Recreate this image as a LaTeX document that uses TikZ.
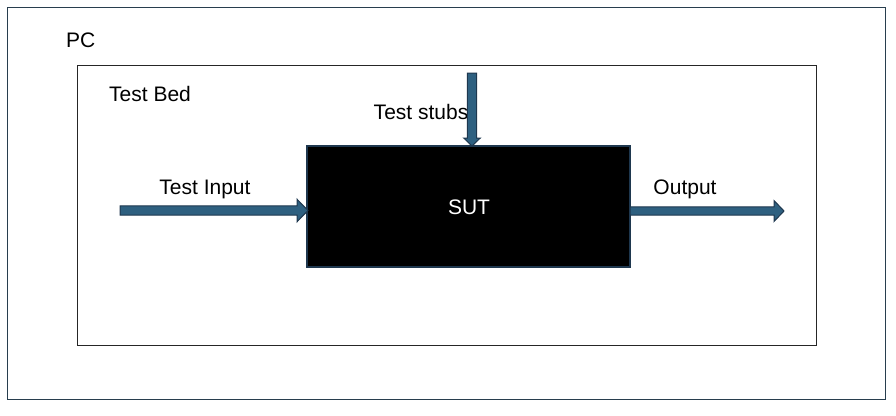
\documentclass[tikz,border=0pt]{standalone}
\usepackage{fontspec}
\setmainfont{Liberation Sans}
\usepackage{tikz}
\usetikzlibrary{calc}
\usepackage{xcolor}
\definecolor{arrowblue}{RGB}{46,96,128}
\definecolor{arrowline}{RGB}{30,55,78}
\definecolor{frameline}{RGB}{40,62,78}

\begin{document}
\begin{tikzpicture}[
  x=1pt,y=-1pt,
  frame/.style={draw=#1,line width=1.8pt,inner sep=0pt,fill=none},
  frame/.default=frameline,
  txt/.style={font=\fontsize{21}{24}\selectfont,inner sep=0pt},
  blockarrow/.style={fill=arrowblue,draw=arrowline,line width=1pt,line join=miter}
  ]
\useasboundingbox (0,0) rectangle (896,415);
\node[frame,minimum width=878,minimum height=392] (pc) at (446.5,203.5){};
\node[frame=black!85,minimum width=739,minimum height=280] (bed) at (447,205.5){};
\node[frame=arrowline,fill=black,minimum width=323,minimum height=121] (sut) at (468.5,206.5){};
\node[txt,anchor=west] (pclabel) at (66,40){PC};
\node[txt,anchor=west] (bedlabel) at (109,94){Test Bed};
\node[txt] (stublabel) at (421,112){Test stubs};
\node[txt] (inlabel) at (205,189){Test Input};
\node[txt] (outlabel) at (685,189){Output};
\node[txt,text=white] (sutlabel) at (469,207){SUT};
\coordinate (inp) at (120,210.5);
\coordinate (sut-in) at (308,210.5);
\coordinate (sut-out) at (630,211);
\coordinate (outp) at (784,211);
\coordinate (stub) at (472,73);
\coordinate (sut-top) at (472,146);
% block arrows: start/end/shaft half width/head half width/head length
\foreach \s/\e/\w/\h/\l in {inp/sut-in/4.6/11.3/11,sut-out/outp/4.2/10.5/10,stub/sut-top/4.6/8.3/8}{
  \coordinate (hb) at ($(\e)!\l pt!(\s)$);
  \draw[blockarrow] ($(\s)!\w pt!90:(\e)$) -- ($(hb)!\w pt!-90:(\s)$) -- ($(hb)!\h pt!-90:(\s)$) -- (\e)
    -- ($(hb)!\h pt!90:(\s)$) -- ($(hb)!\w pt!90:(\s)$) -- ($(\s)!\w pt!-90:(\e)$) -- cycle;
}
\end{tikzpicture}
\end{document}
